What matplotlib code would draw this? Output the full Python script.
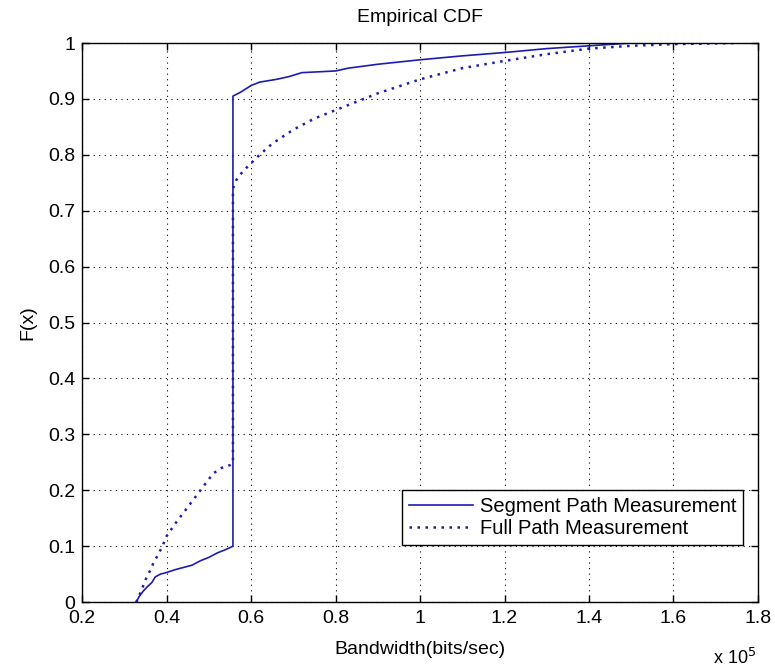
import numpy as np
import matplotlib.pyplot as plt

plt.rcParams['font.family'] = ['Liberation Sans', 'DejaVu Sans']

# bandwidth in units of 1e5 bits/sec, and the empirical CDF value
seg_x = [0.328, 0.335, 0.345, 0.355, 0.365, 0.373, 0.385, 0.40, 0.42, 0.44, 0.46, 0.48, 0.50,
         0.52, 0.54, 0.557, 0.557, 0.575, 0.60, 0.62, 0.66, 0.69, 0.72, 0.80, 0.83, 0.90,
         1.00, 1.10, 1.20, 1.30, 1.40, 1.50, 1.75]
seg_y = [0.0, 0.01, 0.02, 0.028, 0.035, 0.045, 0.05, 0.053, 0.058, 0.062, 0.066, 0.074, 0.08,
         0.088, 0.094, 0.10, 0.905, 0.912, 0.924, 0.93, 0.935, 0.94, 0.947, 0.95, 0.955, 0.962,
         0.97, 0.977, 0.983, 0.99, 0.995, 1.0, 1.0]

full_x = [0.328, 0.34, 0.35, 0.36, 0.37, 0.38, 0.39, 0.40, 0.42, 0.45, 0.47, 0.49, 0.51, 0.53,
          0.55, 0.557, 0.557, 0.565, 0.58, 0.60, 0.62, 0.65, 0.70, 0.75, 0.80, 0.85, 0.90,
          1.00, 1.10, 1.20, 1.30, 1.40, 1.50, 1.60, 1.75]
full_y = [0.0, 0.02, 0.04, 0.055, 0.072, 0.085, 0.10, 0.118, 0.14, 0.17, 0.19, 0.21, 0.23, 0.24,
          0.245, 0.25, 0.74, 0.755, 0.77, 0.785, 0.80, 0.82, 0.845, 0.865, 0.88, 0.895, 0.91,
          0.935, 0.955, 0.968, 0.98, 0.99, 0.995, 0.998, 1.0]

blue = '#1c1cb4'

fig = plt.figure(figsize=(7.75, 6.72), dpi=100)
ax = fig.add_axes([0.106, 0.104, 0.872, 0.832])

ax.plot(seg_x, seg_y, color=blue, lw=1.2, label='Segment Path Measurement')
ax.plot(full_x, full_y, color=blue, lw=1.8, ls=(0, (1, 2.2)), label='Full Path Measurement')

ax.set_xlim(0.2, 1.8)
ax.set_ylim(0, 1)
ax.set_xticks(np.arange(0.2, 1.81, 0.2))
ax.set_yticks(np.arange(0, 1.01, 0.1))
ax.set_xticklabels(['0.2', '0.4', '0.6', '0.8', '1', '1.2', '1.4', '1.6', '1.8'])
ax.set_yticklabels(['0', '0.1', '0.2', '0.3', '0.4', '0.5', '0.6', '0.7', '0.8', '0.9', '1'])
ax.tick_params(direction='in', top=True, right=True, labelsize=14, length=5, width=1)
ax.tick_params(axis='x', pad=6)
ax.tick_params(axis='y', pad=5)
ax.grid(True, color='black', ls=(0, (1, 4)), lw=0.8)
for s in ax.spines.values():
    s.set_linewidth(1)

ax.set_title('Empirical CDF', fontsize=14, pad=15)
ax.set_xlabel('Bandwidth(bits/sec)', fontsize=14, labelpad=10)
ax.set_ylabel('F(x)', fontsize=14, labelpad=8)
fig.text(0.92, 0.006, r'x 10$^{5}$', fontsize=13, va='bottom')

leg = ax.legend(loc='lower right', bbox_to_anchor=(0.978, 0.102), borderaxespad=0,
                fontsize=14.5, fancybox=False, edgecolor='black', framealpha=1,
                handlelength=3.2, handletextpad=0.3, borderpad=0.35, labelspacing=0.15)
leg.get_frame().set_linewidth(1)

fig.savefig('out.png')
